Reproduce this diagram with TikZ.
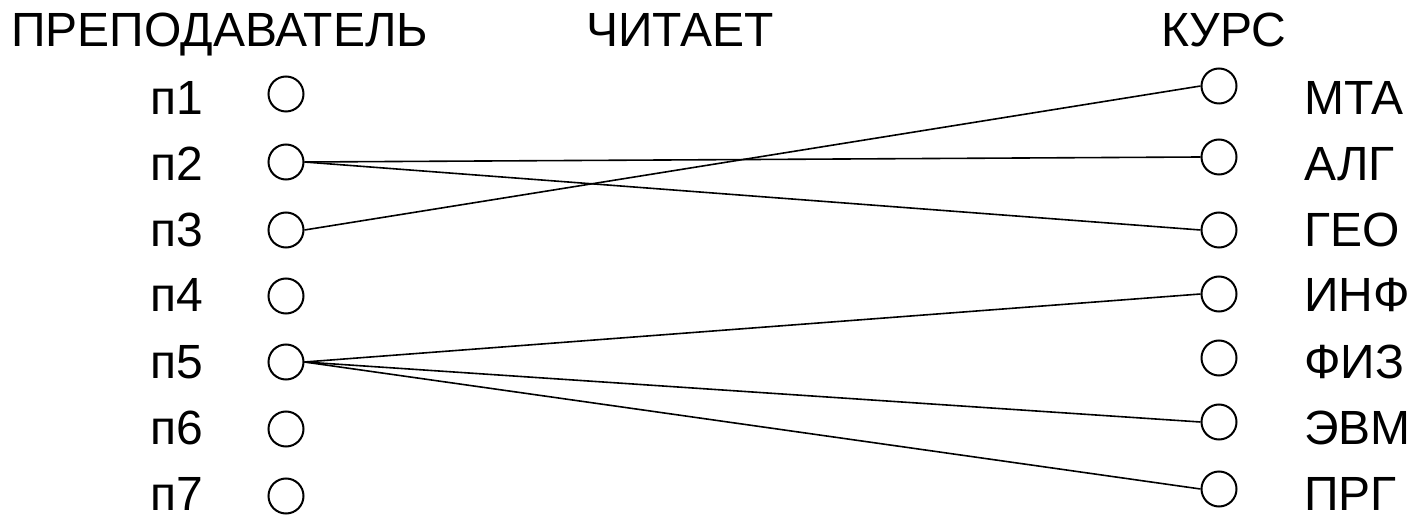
\documentclass[tikz,border=0pt]{standalone}
\usepackage{fontspec}
\setmainfont{Liberation Sans}
\begin{document}
\begin{tikzpicture}[x=1pt,y=-1pt,
  dot/.style={circle,draw,line width=2pt,minimum size=35pt,inner sep=0pt},
  lbl/.style={inner sep=0pt,font=\fontsize{48}{52}\selectfont},
  link/.style={line width=1.6pt}]
\useasboundingbox (0,0) rectangle (1413,518);
\node[lbl,anchor=base west] (h1) at (11,47) {ПРЕПОДАВАТЕЛЬ};
\node[lbl,anchor=base west] (h2) at (586,47) {ЧИТАЕТ};
\node[lbl,anchor=base west] (h3) at (1161,47) {КУРС};
\foreach \i/\y/\b in {1/94/115,2/162/181,3/230/247,4/296/312,5/362/378,6/429/444,7/496/510}{
  \node[dot] (p\i) at (286,\y) {};
  \node[lbl,anchor=base east] (lp\i) at (203,\b) {п\i};
}
\foreach \n/\y/\b/\t in {1/86/115/МТА,2/157/181/АЛГ,3/230/247/ГЕО,4/294/312/ИНФ,5/358/378/ФИЗ,6/422/444/ЭВМ,7/489/510/ПРГ}{
  \node[dot] (k\n) at (1219,\y) {};
  \node[lbl,anchor=base west] (lk\n) at (1304,\b) {\t};
}
\draw[link] (p2.east) -- (k2.west);
\draw[link] (p2.east) -- (k3.west);
\draw[link] (p3.east) -- (k1.west);
\draw[link] (p5.east) -- (k4.west);
\draw[link] (p5.east) -- (k6.west);
\draw[link] (p5.east) -- (k7.west);
\end{tikzpicture}
\end{document}
